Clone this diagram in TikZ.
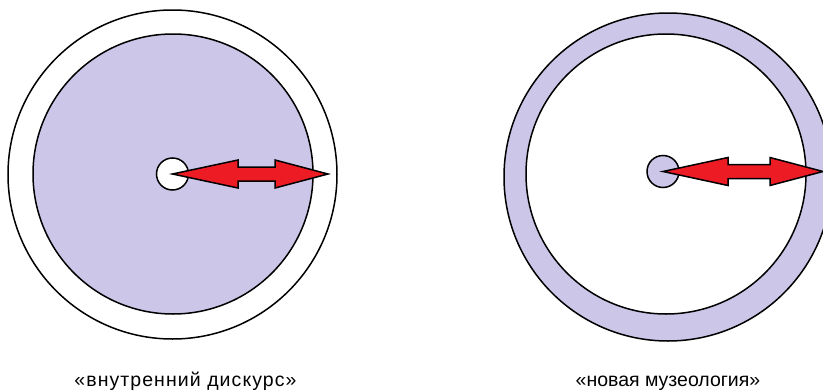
\documentclass[tikz,border=0pt]{standalone}
\usepackage{fontspec}
\setmainfont{Liberation Sans}
\definecolor{lav}{RGB}{204,198,233}
\definecolor{arrred}{RGB}{237,28,36}
\tikzset{
  ring/.style={circle, draw=black, line width=1.5pt, inner sep=0pt},
  dblarrow/.style={fill=arrred, draw=black, line width=1.5pt, line join=miter},
  caption/.style={anchor=base, inner sep=0pt, font=\fontsize{19.5}{22}\selectfont}
}
\begin{document}
\begin{tikzpicture}[x=1pt,y=-1pt]
\useasboundingbox (0,0) rectangle (823,391);
% left diagram
\node[ring, fill=white, minimum size=329pt] (louter) at (172.5,174.5) {};
\node[ring, fill=lav, minimum size=280pt] (linner) at (173,174) {};
\node[ring, fill=white, minimum size=32pt] (lcore) at (172.5,174) {};
\draw[dblarrow] (lcore.center) -- (238,160) -- (238,167) -- (275,167) -- (275,160) -- (328,174)
  -- (275,188) -- (275,181) -- (238,181) -- (238,188) -- cycle;
\node[caption] (ltext) at (185.5,386.5) {\addfontfeature{LetterSpace=5.5}«внутренний дискурс»};
% right diagram
\node[ring, fill=lav, minimum size=328pt] (router) at (668,177) {};
\node[ring, fill=white, minimum size=280pt] (rinner) at (666,174) {};
\node[ring, fill=lav, minimum size=32pt] (rcore) at (663,171.5) {};
\draw[dblarrow] (rcore.center) -- (728,157.5) -- (728,164.5) -- (770,164.5) -- (770,157.5) -- (823,171.5)
  -- (770,185.5) -- (770,178.5) -- (728,178.5) -- (728,185.5) -- cycle;
\node[caption] (rtext) at (668,386.5) {«новая музеология»};
\end{tikzpicture}
\end{document}
